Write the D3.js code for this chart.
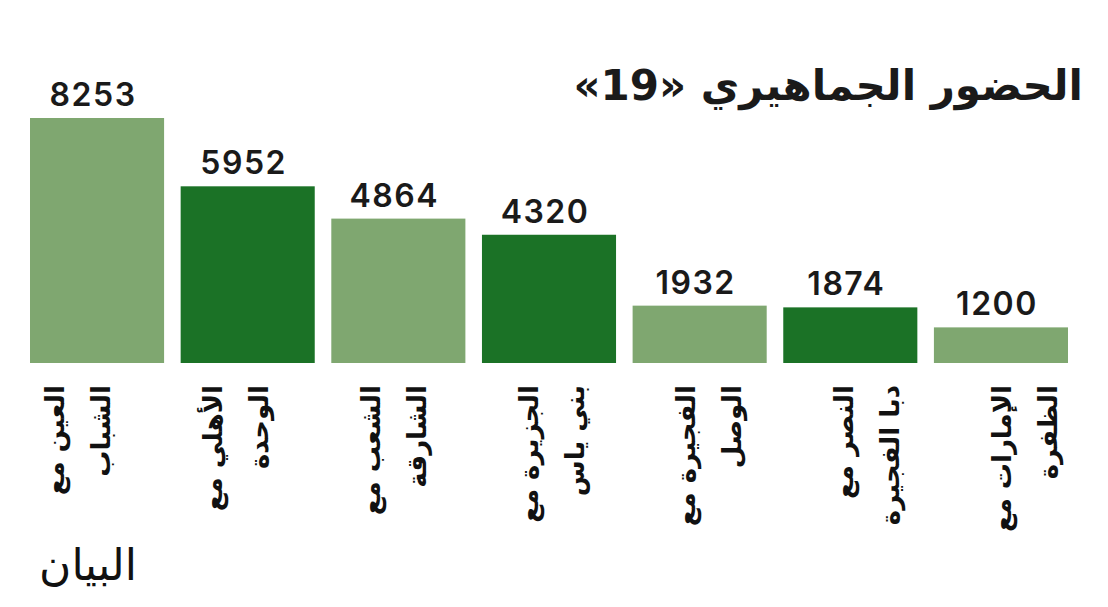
<!DOCTYPE html>
<html>
<head>
<meta charset="utf-8">
<script src="https://cdn.jsdelivr.net/npm/d3@7"></script>
<style>
    body { margin: 0; background: #fff; }
    #chart { width: 1108px; height: 607px; }
</style>
</head>
<body>
<div id="chart"></div>
<script>
const matches = ["العين مع", "الأهلي مع", "الشعب مع", "الجزيرة مع", "الفجيرة مع", "النصر مع", "الإمارات مع"];
const opponents = ["الشباب", "الوحدة", "الشارقة", "بني ياس", "الوصل", "دبا الفجيرة", "الظفرة"];
const attendance = [8253, 5952, 4864, 4320, 1932, 1874, 1200];

const title = "الحضور الجماهيري «19»";
const logo = "البيان";

const width = 1108;
const height = 607;
const baseline = 363;
const lightGreen = "#7fa770";
const darkGreen = "#1b7226";
const arabicFont = "'DejaVu Sans', 'Noto Sans', sans-serif";

const svg = d3.select("#chart").append("svg")
    .attr("width", width)
    .attr("height", height)
    .attr("viewBox", `0 0 ${width} ${height}`);

// Scales
const x = d3.scaleBand()
    .domain(matches)
    .range([30, 1068])
    .paddingInner(0.11)
    .paddingOuter(0);

const y = d3.scaleLinear()
    .domain([0, d3.max(attendance)])
    .range([baseline, 118]);

// labels drift a little to the right of the bars in the original
const labelX = d3.scalePoint()
    .domain(matches)
    .range([64, 1011]);

const rows = matches.map((m, i) => ({ match: m, opp: opponents[i], value: attendance[i], i }));

// Bars
svg.selectAll(".bar")
    .data(rows)
    .enter()
    .append("rect")
    .attr("x", d => x(d.match))
    .attr("y", d => y(d.value))
    .attr("width", x.bandwidth())
    .attr("height", d => baseline - y(d.value))
    .attr("fill", d => d.i % 2 === 0 ? lightGreen : darkGreen);

// Value labels (sit slightly left of centre in the original)
svg.selectAll(".value")
    .data(rows)
    .enter()
    .append("text")
    .attr("x", d => x(d.match) + x.bandwidth() / 2 - 4)
    .attr("y", d => y(d.value) - 12)
    .attr("text-anchor", "middle")
    .style("font-family", "Inter, 'Open Sans', sans-serif")
    .style("font-size", "32px")
    .style("font-weight", "600")
    .style("letter-spacing", "1.5px")
    .style("fill", "#1a1a1a")
    .text(d => d.value);

// Category labels, rotated, two lines each
const cat = svg.selectAll(".cat")
    .data(rows)
    .enter()
    .append("g")
    .attr("transform", d => `translate(${labelX(d.match)}, 385) rotate(-90)`);

cat.append("text")
    .attr("x", 0)
    .attr("y", 0)
    .attr("direction", "rtl")
    .attr("text-anchor", "start")
    .style("font-family", arabicFont)
    .style("font-size", "26px")
    .style("font-weight", "bold")
    .style("fill", "#111")
    .text(d => d.match);

cat.append("text")
    .attr("x", 0)
    .attr("y", 46)
    .attr("direction", "rtl")
    .attr("text-anchor", "start")
    .style("font-family", arabicFont)
    .style("font-size", "26px")
    .style("font-weight", "bold")
    .style("fill", "#111")
    .text(d => d.opp);

// Title
svg.append("text")
    .attr("x", 1083)
    .attr("y", 100)
    .attr("direction", "rtl")
    .attr("text-anchor", "start")
    .style("font-family", arabicFont)
    .style("font-size", "42px")
    .style("font-weight", "bold")
    .style("fill", "#1a1a1a")
    .text(title);

// Logo
svg.append("text")
    .attr("x", 137)
    .attr("y", 580)
    .attr("direction", "rtl")
    .attr("text-anchor", "start")
    .style("font-family", arabicFont)
    .style("font-size", "44px")
    .style("fill", "#111")
    .text(logo);
</script>
</body>
</html>
